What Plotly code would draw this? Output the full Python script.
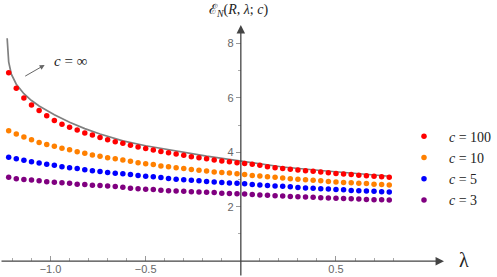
import plotly.graph_objects as go

# ---------------- data ----------------
lam = [-1.22, -1.18, -1.14, -1.10, -1.06, -1.02, -0.98, -0.94, -0.90, -0.86,
       -0.82, -0.78, -0.74, -0.70, -0.66, -0.62, -0.58, -0.54, -0.50, -0.46,
       -0.42, -0.38, -0.34, -0.30, -0.26, -0.22, -0.18, -0.14, -0.10, -0.06,
       -0.02, 0.02, 0.06, 0.10, 0.14, 0.18, 0.22, 0.26, 0.30, 0.34,
       0.38, 0.42, 0.46, 0.50, 0.54, 0.58, 0.62, 0.66, 0.70, 0.74, 0.78]

c100 = [6.92, 6.35, 5.99, 5.74, 5.53, 5.34, 5.17, 5.03, 4.92, 4.82,
        4.71, 4.63, 4.54, 4.46, 4.39, 4.33, 4.26, 4.19, 4.14, 4.08,
        4.03, 3.98, 3.94, 3.89, 3.84, 3.80, 3.76, 3.72, 3.68, 3.65,
        3.62, 3.59, 3.56, 3.52, 3.47, 3.43, 3.40, 3.38, 3.35, 3.32,
        3.30, 3.28, 3.25, 3.22, 3.20, 3.18, 3.16, 3.14, 3.12, 3.10, 3.08]

c10 = [4.79, 4.67, 4.56, 4.46, 4.36, 4.29, 4.22, 4.15, 4.09, 4.02,
       3.96, 3.90, 3.85, 3.80, 3.76, 3.72, 3.67, 3.62, 3.58, 3.55,
       3.50, 3.47, 3.43, 3.40, 3.37, 3.34, 3.31, 3.28, 3.26, 3.24,
       3.21, 3.18, 3.15, 3.13, 3.10, 3.08, 3.06, 3.03, 3.01, 2.99,
       2.97, 2.95, 2.93, 2.91, 2.89, 2.88, 2.86, 2.85, 2.83, 2.82, 2.80]

c5 = [3.82, 3.76, 3.71, 3.65, 3.61, 3.56, 3.52, 3.47, 3.43, 3.40,
      3.36, 3.32, 3.29, 3.26, 3.23, 3.21, 3.18, 3.15, 3.12, 3.10,
      3.07, 3.04, 3.01, 2.99, 2.97, 2.95, 2.93, 2.91, 2.89, 2.87,
      2.86, 2.84, 2.82, 2.80, 2.78, 2.76, 2.75, 2.73, 2.71, 2.69,
      2.68, 2.66, 2.65, 2.63, 2.62, 2.60, 2.59, 2.58, 2.57, 2.55, 2.54]

c3 = [3.08, 3.03, 3.00, 2.98, 2.95, 2.92, 2.90, 2.88, 2.86, 2.83,
      2.82, 2.79, 2.78, 2.76, 2.74, 2.72, 2.68, 2.66, 2.64, 2.63,
      2.61, 2.59, 2.58, 2.57, 2.55, 2.54, 2.53, 2.52, 2.50, 2.49,
      2.48, 2.47, 2.45, 2.43, 2.42, 2.40, 2.39, 2.38, 2.37, 2.36,
      2.35, 2.33, 2.32, 2.31, 2.30, 2.29, 2.28, 2.27, 2.26, 2.26, 2.25]

lam_inf = [-1.228, -1.224, -1.22, -1.206, -1.18, -1.14, -1.10, -1.06, -0.98, -0.90,
           -0.82, -0.74, -0.62, -0.50, -0.34, -0.18, 0.02, 0.22, 0.42, 0.62, 0.78]
c_inf = [8.19, 7.76, 7.32, 6.87, 6.50, 6.15, 5.90, 5.70, 5.38, 5.10,
         4.87, 4.67, 4.42, 4.24, 4.04, 3.86, 3.66, 3.46, 3.33, 3.21, 3.12]

series_names = ["<i>c</i> = 100", "<i>c</i> = 10", "<i>c</i> = 5", "<i>c</i> = 3"]
series_vals = [c100, c10, c5, c3]
series_cols = ["#ff0000", "#ff8000", "#0000ff", "#800080"]

x_major = [-1.0, -0.5, 0.5]
x_major_text = ["\u22121.0", "\u22120.5", "0.5"]
x_minor = [-1.2, -1.1, -0.9, -0.8, -0.7, -0.6, -0.4, -0.3, -0.2, -0.1,
           0.1, 0.2, 0.3, 0.4, 0.6, 0.7, 0.8]
y_major = [2, 4, 6, 8]
y_minor = [1, 3, 5, 7]

# ---------------- figure ----------------
X0, X1 = -1.2656, 1.0677
Y0, Y1 = -0.58, 8.674
SERIF = "Liberation Serif, DejaVu Serif, serif"
SANS = "Liberation Sans, DejaVu Sans, sans-serif"

fig = go.Figure()
fig.add_trace(go.Scatter(x=lam_inf, y=c_inf, mode="lines",
                         line=dict(color="#808080", width=1.7),
                         showlegend=False, hoverinfo="skip"))
for nm, vals, col in zip(series_names, series_vals, series_cols):
    fig.add_trace(go.Scatter(x=lam, y=vals, mode="markers", name=nm,
                             marker=dict(color=col, size=5.5)))

axis_col = "#444444"
fig.update_layout(
    width=497, height=277,
    margin=dict(l=0, r=49, t=25, b=0),
    plot_bgcolor="white", paper_bgcolor="white",
    xaxis=dict(range=[X0, X1], anchor="free", position=(0 - Y0) / (Y1 - Y0),
               showline=False, showgrid=False, zeroline=False,
               tickmode="array", tickvals=x_major, ticktext=x_major_text,
               ticks="inside", ticklen=5, tickwidth=1, tickcolor="#999999",
               tickfont=dict(family=SANS, size=11, color="#666666"),
               minor=dict(tickmode="array", tickvals=x_minor, ticks="inside",
                          ticklen=3, tickcolor="#aaaaaa", showgrid=False)),
    yaxis=dict(range=[Y0, Y1], anchor="free", position=(0 - X0) / (X1 - X0),
               showline=False, showgrid=False, zeroline=False,
               tickmode="array", tickvals=y_major,
               ticks="outside", ticklen=5, tickwidth=1, tickcolor="#999999",
               tickfont=dict(family=SANS, size=11, color="#666666"),
               minor=dict(tickmode="array", tickvals=y_minor, ticks="outside",
                          ticklen=3, tickcolor="#aaaaaa", showgrid=False)),
    legend=dict(x=0.8995, y=0.62, xanchor="left", yanchor="top",
                font=dict(family=SERIF, size=14, color="#222222"),
                itemwidth=40,
                bgcolor="rgba(0,0,0,0)", tracegroupgap=0),
    showlegend=True,
)

annotations = [
    # x axis with arrow
    dict(x=X1, y=0, ax=X0, ay=0, xref="x", yref="y", axref="x", ayref="y",
         text="", showarrow=True, arrowhead=2, arrowsize=1.3, arrowwidth=1.3,
         arrowcolor=axis_col, standoff=0),
    # y axis with arrow
    dict(x=0, y=Y1, ax=0, ay=Y0, xref="x", yref="y", axref="x", ayref="y",
         text="", showarrow=True, arrowhead=2, arrowsize=1.3, arrowwidth=1.3,
         arrowcolor=axis_col, standoff=0),
    # c = infinity pointer
    dict(x=-1.031, y=7.205, ax=-1.141, ay=6.765, xref="x", yref="y",
         axref="x", ayref="y", text="", showarrow=True, arrowhead=2,
         arrowsize=1, arrowwidth=1, arrowcolor="#666666", standoff=0),
    dict(x=-0.896, y=7.35, xref="x", yref="y", text="<i>c</i> = \u221e",
         showarrow=False, font=dict(family=SERIF, size=15, color="#222222")),
    # axis labels
    dict(x=209 / 448, y=1 + 14 / 252, xref="paper", yref="paper",
         text="\u2130<sub><i>N</i></sub>(<i>R</i>, <i>\u03bb</i>; <i>c</i>)",
         showarrow=False, xanchor="left", yanchor="middle",
         font=dict(family=SERIF, size=14, color="#222222")),
    dict(x=468 / 448, y=0.05, xref="paper", yref="y", text="\u03bb",
         showarrow=False, xanchor="center", yanchor="middle",
         font=dict(family=SERIF, size=20, color="#222222")),
]
fig.update_layout(annotations=annotations)

fig.write_html("out.html",
               config={"displayModeBar": False},
               post_script="document.body.style.margin='0';"
                           "document.body.style.overflow='hidden';")
